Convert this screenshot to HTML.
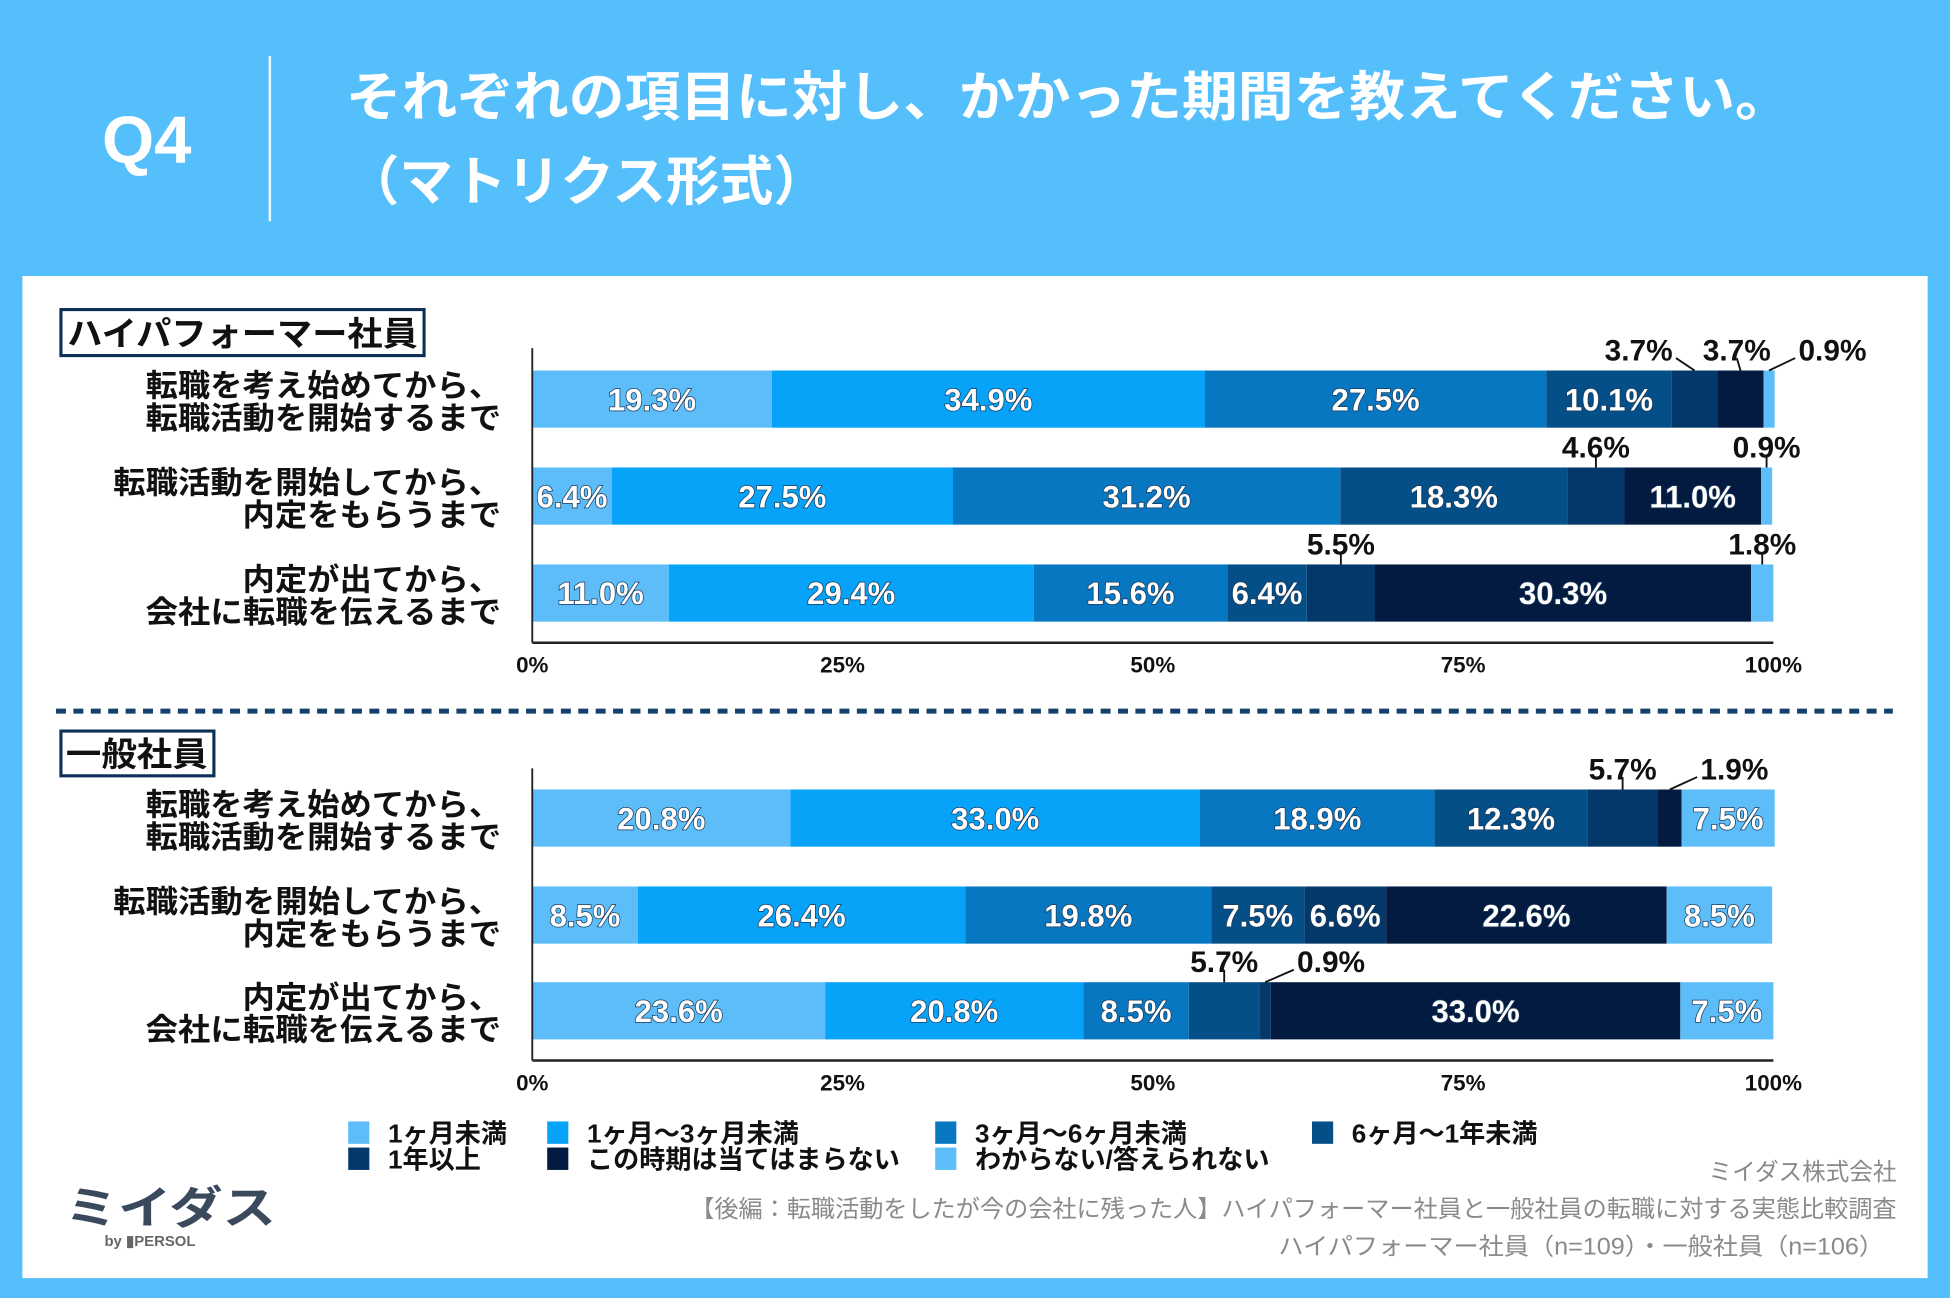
<!DOCTYPE html>
<html><head><meta charset="utf-8">
<style>
html,body{margin:0;padding:0;background:#55bffc;}
svg{display:block;}
text{font-family:"Liberation Sans","Noto Sans CJK JP",sans-serif;}
</style></head>
<body>
<svg id="chart" width="1950" height="1298" viewBox="0 0 1568 1044" preserveAspectRatio="none" xmlns="http://www.w3.org/2000/svg">
<rect x="0" y="0" width="1568" height="1044" fill="#55bffc"/>
<text x="118" y="131" font-size="54" font-weight="bold" fill="#fff" text-anchor="middle">Q4</text>
<rect x="216" y="45" width="2" height="133" fill="#e8f6ff"/>
<text x="278" y="93" font-size="43" font-weight="bold" fill="#fff" textLength="1162" lengthAdjust="spacingAndGlyphs">それぞれの項目に対し、かかった期間を教えてください。</text>
<text x="278" y="161" font-size="43" font-weight="bold" fill="#fff" textLength="387" lengthAdjust="spacingAndGlyphs">（マトリクス形式）</text>
<rect x="18" y="222" width="1532" height="806" fill="#fff"/>
<rect x="49" y="249" width="292" height="37" fill="#fff" stroke="#0e2f55" stroke-width="2.5"/>
<text x="54" y="278" font-size="27" font-weight="bold" fill="#111" textLength="282" lengthAdjust="spacingAndGlyphs">ハイパフォーマー社員</text>
<line x1="45" y1="572" x2="1522" y2="572" stroke="#14406e" stroke-width="4" stroke-dasharray="8,6"/>
<rect x="49" y="588" width="123" height="36" fill="#fff" stroke="#0e2f55" stroke-width="2.5"/>
<text x="53" y="616" font-size="27" font-weight="bold" fill="#111" textLength="114" lengthAdjust="spacingAndGlyphs">一般社員</text>
<g id="plots"></g>
<g id="legend"></g>
<g>
<text x="52" y="984" font-size="36" font-weight="bold" fill="#3a4a5c" textLength="170" lengthAdjust="spacingAndGlyphs">ミイダス</text>
<text x="84" y="1002" font-size="12" font-weight="bold" fill="#666">by ▮PERSOL</text>
</g>
<text x="1525" y="949" font-size="19" fill="#8a8a8a" text-anchor="end">ミイダス株式会社</text>
<text x="1525" y="979" font-size="19" fill="#8a8a8a" text-anchor="end" textLength="970" lengthAdjust="spacingAndGlyphs">【後編：転職活動をしたが今の会社に残った人】ハイパフォーマー社員と一般社員の転職に対する実態比較調査</text>
<text x="1515" y="1009" font-size="19" fill="#8a8a8a" text-anchor="end" textLength="487" lengthAdjust="spacingAndGlyphs">ハイパフォーマー社員（n=109）・一般社員（n=106）</text>
</svg>
<script>
const seriesNames = ["1ヶ月未満","1ヶ月〜3ヶ月未満","3ヶ月〜6ヶ月未満","6ヶ月〜1年未満","1年以上","この時期は当てはまらない","わからない/答えられない"];
const categories = ["転職を考え始めてから、|転職活動を開始するまで","転職活動を開始してから、|内定をもらうまで","内定が出てから、|会社に転職を伝えるまで"];
const highValues = [
  [19.3,34.9,27.5,10.1,3.7,3.7,0.9],
  [6.4,27.5,31.2,18.3,4.6,11.0,0.9],
  [11.0,29.4,15.6,6.4,5.5,30.3,1.8]
];
const generalValues = [
  [20.8,33.0,18.9,12.3,5.7,1.9,7.5],
  [8.5,26.4,19.8,7.5,6.6,22.6,8.5],
  [23.6,20.8,8.5,5.7,0.9,33.0,7.5]
];
const ticks = [0,25,50,75,100];
const tickLabels = ["0%","25%","50%","75%","100%"];
const colors = ["#5cbdf9","#06a3f9","#0877c1","#044f87","#04386b","#031b40","#5cbdf9"];
// layout-only horizontal offsets for outside labels (pixels), per row
const highLabelShift = [[-45,-3,51],[0,0],[0,0]];
const generalLabelShift = [[0,52],[],[0,53]];

const NS="http://www.w3.org/2000/svg";
function mk(tag,attrs,parent){const e=document.createElementNS(NS,tag);for(const k in attrs)e.setAttribute(k,attrs[k]);parent.appendChild(e);return e;}
const X0=428,X1=1426;
function xs(v){return X0+(X1-X0)*v/100;}
const plots=document.getElementById('plots');

function drawPanel(values,shifts,rowTops,axisY,axisTop,prefix){
  const g=mk('g',{},plots);
  
  
  const BH=46;
  values.forEach((row,ri)=>{
    const y=rowTops[ri];
    const lines=categories[ri].split('|');
    const lab=mk('text',{x:403,y:y+21,'font-size':25,'font-weight':'bold','text-anchor':'end',fill:'#111'},g);
    
    
    lines.forEach((l,li)=>{const t=mk('tspan',{x:403,dy:li?26:0,textLength:l.length*26,lengthAdjust:'spacingAndGlyphs'},lab);t.textContent=l;});
    let cum=0;
    const small=[];
    row.forEach((v,si)=>{
      const xa=xs(cum),xb=xs(cum+v);
      const r=mk('rect',{x:xa,y:y,width:Math.max(0,xb-xa),height:BH,fill:colors[si]},g);
      
      
      if(v>=6){
        const cx=(xa+xb)/2;
        const t=mk('text',{x:cx,y:y+32,'font-size':25,'font-weight':'bold','text-anchor':'middle',fill:'#fff',stroke:'#1a3a5a','stroke-width':1.2,'paint-order':'stroke'},g);
        t.textContent=v.toFixed(1)+'%';
        
        
      } else small.push({v:v,cx:(xa+xb)/2});
      cum+=v;
    });
    small.forEach((s,k)=>{
      const dx=(shifts[ri]&&shifts[ri][k])||0;
      const lx=s.cx+dx;
      const t=mk('text',{x:lx,y:y-8,'font-size':24,'font-weight':'bold','text-anchor':'middle',fill:'#111'},g);
      t.textContent=s.v.toFixed(1)+'%';
      
      
      const ex = dx<-10 ? lx+30 : (dx>10 ? lx-30 : lx);
      const ln=mk('line',{x1:s.cx,y1:y,x2:ex,y2:y-10,stroke:'#111','stroke-width':1.5},g);
      
      
    });
  });
  const ax=mk('line',{x1:X0,y1:axisY,x2:X1,y2:axisY,stroke:'#222','stroke-width':2},g);
  
  
  const ay=mk('line',{x1:X0,y1:axisTop,x2:X0,y2:axisY,stroke:'#222','stroke-width':1.5},g);
  
  
  ticks.forEach((tv,i)=>{
    const t=mk('text',{x:xs(tv),y:axisY+24,'font-size':18,'font-weight':'bold','text-anchor':'middle',fill:'#111'},g);
    t.textContent=tickLabels[i];
    
    
  });
}
drawPanel(highValues,highLabelShift,[298,376,454],517,280,'high');
drawPanel(generalValues,generalLabelShift,[635,713,790],853,618,'general');

const lg=document.getElementById('legend');


const legX=[280,440,752,1055];
seriesNames.forEach((n,i)=>{
  const col=i%4,row=Math.floor(i/4);
  const x=legX[col],y=902+row*21;
  const e=mk('g',{},lg);
  
  
  mk('rect',{x:x,y:y,width:17,height:18,fill:colors[i]},e);
  const t=mk('text',{x:x+32,y:y+17,'font-size':21,'font-weight':'bold',fill:'#111'},e);
  t.textContent=n;
});
</script>
</body></html>
